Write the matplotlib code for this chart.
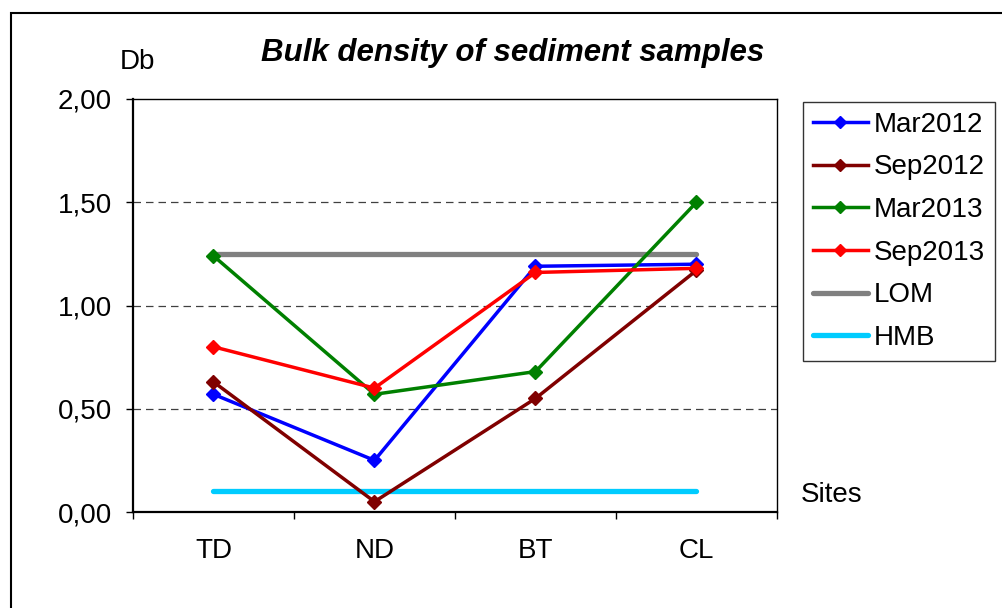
import matplotlib
matplotlib.use("Agg")
import matplotlib.pyplot as plt
from matplotlib.patches import Rectangle
from matplotlib.ticker import FixedLocator, FuncFormatter

plt.rcParams['font.family'] = ['Liberation Sans', 'DejaVu Sans']

sites = ["TD", "ND", "BT", "CL"]
mar2012 = [0.57, 0.25, 1.19, 1.20]
sep2012 = [0.63, 0.05, 0.55, 1.17]
mar2013 = [1.24, 0.57, 0.68, 1.50]
sep2013 = [0.80, 0.60, 1.16, 1.18]
lom = [1.25, 1.25, 1.25, 1.25]
hmb = [0.10, 0.10, 0.10, 0.10]

fig = plt.figure(figsize=(10.03, 6.08), dpi=100)
fig.patches.append(Rectangle((11 / 1003, -0.05), 1.1, 1 - 13 / 608 + 0.05,
                             transform=fig.transFigure, fill=False,
                             edgecolor="black", linewidth=1.5))
ax = fig.add_axes([133 / 1003, 1 - 512 / 608, 644 / 1003, 413 / 608])

x = range(len(sites))
series = [("Mar2012", mar2012, "#0000FF"),
          ("Sep2012", sep2012, "#800000"),
          ("Mar2013", mar2013, "#008000"),
          ("Sep2013", sep2013, "#FF0000")]
for name, vals, col in series:
    ax.plot(x, vals, color=col, lw=2.5, marker="D", markersize=7.5, label=name, zorder=3)
ax.plot(x, lom, color="#808080", lw=3.8, solid_capstyle="round", label="LOM", zorder=2)
ax.plot(x, hmb, color="#00CCFF", lw=3.8, solid_capstyle="round", label="HMB", zorder=2)

ax.set_xlim(-0.5, 3.5)
ax.set_ylim(0, 2)
ax.set_yticks([0, 0.5, 1.0, 1.5, 2.0])
ax.yaxis.set_major_formatter(FuncFormatter(lambda v, p: f"{v:.2f}".replace(".", ",")))
ax.set_xticks(list(x))
ax.set_xticklabels(sites)
ax.xaxis.set_minor_locator(FixedLocator([-0.5, 0.5, 1.5, 2.5, 3.5]))
ax.tick_params(axis="x", which="major", length=0, pad=19, labelsize=20)
ax.tick_params(axis="x", which="minor", length=5, width=1, direction="out")
ax.tick_params(axis="y", length=5, width=1, direction="out", pad=10, labelsize=20)

for v in [0.5, 1.0, 1.5]:
    ax.axhline(v, color="#404040", lw=0.9, ls=(0, (6, 4)), zorder=1)

for s in ["left", "bottom"]:
    ax.spines[s].set_linewidth(1.6)
for s in ["top", "right"]:
    ax.spines[s].set_linewidth(1.0)

fig.text(513 / 1003, 1 - 53 / 608, "Bulk density of sediment samples", fontsize=22.5,
         fontweight="bold", fontstyle="italic", ha="center", va="center")
fig.text(137 / 1003, 1 - 62 / 608, "Db", fontsize=20, ha="center", va="center")
fig.text(832 / 1003, 1 - 495 / 608, "Sites", fontsize=20, ha="center", va="center")

leg = ax.legend(loc="upper left", bbox_to_anchor=(803 / 1003, 1 - 102 / 608),
                bbox_transform=fig.transFigure, fontsize=20, frameon=True,
                fancybox=False, edgecolor="black", handlelength=2.0,
                handletextpad=0.2, labelspacing=0.6, borderpad=0.35,
                borderaxespad=0, markerscale=0.8)
leg.get_frame().set_linewidth(1.0)

fig.savefig("out.png", dpi=100)
